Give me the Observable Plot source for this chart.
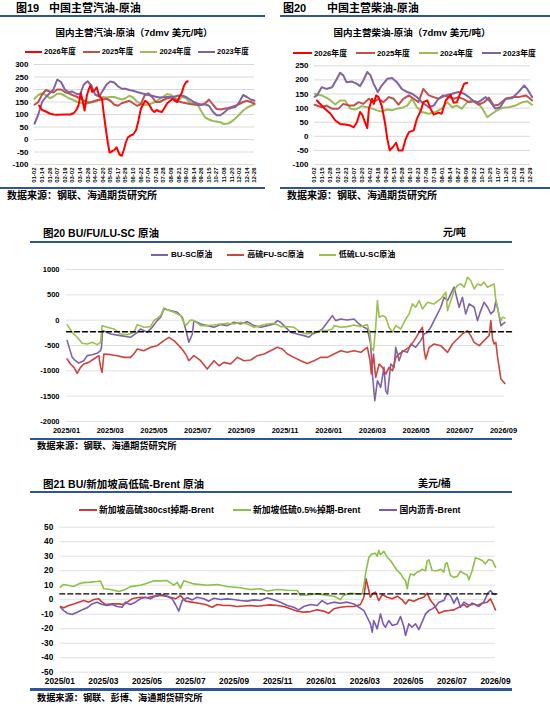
<!DOCTYPE html>
<html><head><meta charset="utf-8">
<script src="https://cdn.jsdelivr.net/npm/d3@7"></script>
<script src="https://cdn.jsdelivr.net/npm/@observablehq/plot@0.6"></script>
<style>
body{margin:0;background:#fff;}
#page{position:relative;width:550px;height:706px;overflow:hidden;background:#fff;font-family:"Liberation Sans",Arial,"Noto Sans CJK SC",sans-serif;color:#000;}
.t{position:absolute;white-space:nowrap;font-weight:700;line-height:1;}
.rule{position:absolute;background:#2F5597;}
.legend{position:absolute;display:flex;align-items:center;white-space:nowrap;font-weight:700;line-height:1;}
.legend .it{display:inline-flex;align-items:center;}
.legend .sw{display:inline-block;height:2px;}
.chart{position:absolute;}
</style></head>
<body><div id="page"></div>
<script>
// ---------------- DATA ----------------
const yearNames = ["2026年度","2025年度","2024年度","2023年度"];
const yearColors = ["#FF0000","#C0504D","#9BBB59","#8064A2"];

const gasTicks = ["01-02","01-14","01-26","02-07","02-19","03-02","03-14","03-26","04-07","04-20","05-05","05-17","05-29","06-10","06-22","07-04","07-16","07-28","08-09","08-21","09-02","09-14","09-26","10-15","10-27","11-08","11-20","12-02","12-14","12-26"];
const gasYTicks = [-100,-50,0,50,100,150,200,250,300];
// values every half tick step
const gas2023 = [63,100,150,170,185,200,240,230,200,190,192,183,180,220,233,215,180,172,195,220,232,228,213,203,203,198,195,190,186,182,178,175,171,168,169,170,170,172,176,175,170,160,150,143,140,140,135,112,97,97,108,122,127,130,150,178,170,160,155];
const gas2024 = [163,178,185,178,165,172,183,183,175,165,160,152,147,143,145,148,152,160,170,168,170,170,165,160,165,175,168,152,142,138,140,145,152,162,172,182,178,168,158,170,165,148,145,140,112,88,80,74,72,69,62,64,72,85,100,116,127,135,140];
const gas2025 = [139,150,180,198,192,188,200,200,190,185,178,172,165,155,148,150,155,158,160,163,155,140,135,145,150,155,145,135,140,175,185,170,150,150,158,165,168,162,152,148,145,142,140,138,138,145,160,140,122,120,123,126,130,135,142,150,155,150,143];
const gas2026 = [[0.6,136],[1,118],[1.5,112],[2,104],[2.5,100],[3,99],[4,100],[4.7,100],[5.2,106],[5.5,118],[5.8,136],[6.1,186],[6.3,160],[6.6,116],[6.9,176],[7.2,205],[7.4,216],[7.6,190],[7.9,196],[8.2,209],[8.5,176],[8.9,163],[9.1,110],[9.3,65],[9.5,20],[9.7,-20],[9.9,-52],[10.3,-46],[10.6,-40],[10.8,-31],[11.0,-45],[11.2,-60],[11.5,-65],[11.8,-40],[12.0,-15],[12.3,8],[12.6,15],[13.0,20],[13.4,38],[13.7,75],[14.0,120],[14.3,140],[14.6,155],[14.9,148],[15.2,135],[15.5,118],[15.8,110],[16.1,118],[16.4,113],[16.8,110],[17.1,125],[17.5,145],[17.9,155],[18.2,162],[18.5,155],[18.8,150],[19.1,170],[19.4,185],[19.7,215],[20.0,230],[20.2,233]];

const dieselTicks = ["01-02","01-15","01-28","02-10","02-23","03-07","03-20","04-02","04-16","04-29","05-15","05-28","06-10","06-23","07-06","07-19","08-01","08-14","08-27","09-09","09-22","10-12","10-25","11-07","11-20","12-03","12-16","12-29"];
const dieselYTicks = [-100,-50,0,50,100,150,200,250];
const diesel2023 = [[0,140],[0.3,145],[0.9,174],[1.5,168],[2.2,174],[2.8,204],[3.2,225],[3.6,216],[4.0,192],[4.7,194],[5.3,186],[5.7,178],[6.1,198],[6.6,228],[7.0,216],[7.4,186],[7.9,157],[8.4,180],[9.1,204],[9.7,207],[10.3,192],[10.9,168],[11.6,157],[12.2,151],[12.8,139],[13.4,121],[14.3,103],[14.9,109],[15.5,133],[16.4,145],[17.2,151],[18.0,157],[18.7,151],[19.3,139],[19.9,124],[20.5,121],[21.4,139],[22.0,121],[22.6,98],[23.2,103],[23.9,133],[24.7,135],[25.5,157],[26.2,180],[26.6,168],[27.2,139]];
const diesel2024 = [[0,151],[0.9,145],[1.75,133],[2.6,113],[3.2,127],[3.8,127],[4.5,98],[5.1,95],[5.9,107],[6.6,103],[7.2,98],[7.8,92],[8.4,88],[9.1,95],[9.7,92],[10.3,98],[10.9,101],[11.6,109],[12.2,133],[12.8,103],[13.4,86],[14.3,80],[15.1,86],[15.9,98],[16.6,121],[17.2,103],[17.8,109],[18.4,98],[19.1,121],[19.7,127],[20.3,121],[21.0,98],[21.6,68],[22.2,80],[22.8,92],[23.5,101],[24.3,103],[25.1,109],[26.0,121],[26.6,124],[27.2,112]];
const diesel2025 = [[0,112],[0.9,103],[1.5,109],[2.2,98],[3.0,98],[3.6,115],[4.3,109],[4.9,109],[5.5,121],[6.1,115],[6.8,133],[7.4,121],[8.0,133],[8.6,121],[9.3,139],[9.9,133],[10.5,112],[11.1,133],[11.8,145],[12.4,133],[13.0,121],[13.6,168],[14.3,145],[14.9,139],[15.5,133],[16.1,145],[16.8,139],[17.4,133],[18.0,139],[18.7,131],[19.3,121],[19.9,124],[20.5,112],[21.2,121],[21.8,137],[22.4,109],[23.0,112],[23.9,133],[24.7,139],[25.5,139],[26.4,145],[26.9,135],[27.2,127]];
const diesel2026 = [[0.3,127],[0.9,109],[1.3,98],[2.0,80],[2.6,56],[3.2,44],[3.8,42],[4.5,38],[4.9,32],[5.3,50],[5.7,86],[6.0,74],[6.3,50],[6.6,29],[6.8,98],[7.2,133],[7.4,115],[7.7,145],[8.0,139],[8.4,109],[8.8,50],[9.1,-9],[9.4,-50],[9.8,-38],[10.2,-23],[10.5,-50],[11.0,-50],[11.4,-9],[11.8,15],[12.4,21],[12.8,62],[13.3,92],[13.6,121],[14.1,127],[14.5,98],[14.9,77],[15.5,84],[15.9,80],[16.4,127],[17.0,147],[17.4,119],[17.8,121],[18.2,151],[18.7,186],[19.1,190]];

// month offsets from 2025/01
const monthTickLabels = ["2025/01","2025/03","2025/05","2025/07","2025/09","2025/11","2026/01","2026/03","2026/05","2026/07","2026/09"];
const monthTicks = [0,2,4,6,8,10,12,14,16,18,20];

const midNames = ["BU-SC原油","高硫FU-SC原油","低硫LU-SC原油"];
const midColors = ["#8064A2","#CC4540","#9BC04E"];
const midYTicks = [-2000,-1500,-1000,-500,0,500,1000];
const midDashLevel = -230;
const midBU = [[0.03,-404],[0.26,-734],[0.41,-800],[0.56,-846],[0.79,-800],[0.95,-700],[1.18,-681],[1.40,-655],[1.56,-602],[1.60,-536],[1.65,-206],[2.02,-272],[2.47,-305],[2.93,-338],[3.24,-240],[3.39,-174],[3.69,-240],[3.92,-141],[4.15,-9],[4.31,57],[4.46,222],[4.76,189],[5.07,156],[5.30,57],[5.45,-174],[5.60,-437],[5.76,-272],[5.83,-9],[6.14,-75],[6.44,-108],[6.75,-141],[7.05,-88],[7.36,-108],[7.66,-42],[7.97,-75],[8.27,-29],[8.58,-108],[8.89,-141],[9.19,-108],[9.50,-75],[9.65,-9],[9.80,-42],[9.95,-108],[10.26,-240],[10.56,-272],[10.87,-305],[11.10,-338],[11.25,-272],[11.48,-240],[11.71,-174],[11.94,-42],[12.17,90],[12.32,-9],[12.55,24],[12.85,4],[13.16,24],[13.39,-75],[13.62,-141],[13.77,-174],[13.92,-470],[14.00,-1063],[14.11,-1590],[14.23,-1195],[14.38,-1327],[14.53,-932],[14.61,-1393],[14.69,-1460],[14.84,-866],[14.99,-932],[15.07,-536],[15.22,-800],[15.37,-602],[15.60,-635],[15.76,-470],[15.98,-536],[16.21,-404],[16.37,-272],[16.52,-240],[16.67,-141],[16.82,-9],[16.98,123],[17.13,255],[17.28,453],[17.44,387],[17.59,519],[17.74,651],[17.97,255],[18.12,453],[18.27,123],[18.43,321],[18.66,255],[18.81,-9],[18.96,189],[19.11,354],[19.27,255],[19.42,123],[19.57,189],[19.65,387],[19.80,90],[19.88,-108],[20.06,-42]];
const midFU = [[0.03,-767],[0.18,-866],[0.34,-932],[0.49,-1050],[0.64,-932],[0.79,-866],[1.02,-833],[1.25,-767],[1.48,-701],[1.56,-932],[1.63,-1030],[1.71,-668],[2.02,-681],[2.32,-701],[2.63,-734],[2.93,-734],[3.08,-668],[3.24,-569],[3.54,-602],[3.85,-536],[4.15,-503],[4.46,-404],[4.69,-338],[4.92,-404],[5.22,-536],[5.45,-668],[5.60,-800],[5.83,-701],[6.14,-800],[6.44,-965],[6.75,-800],[6.98,-899],[7.21,-833],[7.51,-866],[7.82,-734],[8.12,-800],[8.43,-787],[8.73,-701],[9.04,-668],[9.34,-602],[9.65,-536],[9.88,-569],[10.11,-668],[10.41,-734],[10.72,-800],[11.02,-853],[11.33,-800],[11.63,-734],[11.94,-734],[12.24,-668],[12.55,-602],[12.85,-635],[13.16,-602],[13.47,-635],[13.77,-536],[13.89,-800],[13.95,-1063],[14.05,-668],[14.15,-1129],[14.31,-866],[14.46,-932],[14.61,-1063],[14.76,-932],[14.92,-998],[15.07,-734],[15.22,-668],[15.45,-602],[15.68,-536],[15.91,-404],[16.14,-240],[16.29,-141],[16.37,-602],[16.44,-767],[16.60,-536],[16.82,-470],[17.13,-503],[17.44,-635],[17.66,-470],[17.89,-371],[18.12,-272],[18.35,-206],[18.50,-305],[18.66,-437],[18.89,-503],[19.11,-404],[19.34,-305],[19.42,-9],[19.50,-371],[19.57,-470],[19.65,-437],[19.73,-734],[19.80,-932],[19.88,-1162],[19.95,-1195],[20.06,-1248]];
const midLU = [[0.03,-88],[0.26,-240],[0.49,-338],[0.72,-457],[0.95,-470],[1.18,-437],[1.40,-483],[1.56,-437],[1.63,-108],[1.86,-141],[2.17,-174],[2.47,-272],[2.78,-286],[3.08,-240],[3.24,-88],[3.54,-141],[3.85,-127],[4.00,-9],[4.31,90],[4.46,242],[4.69,189],[4.92,156],[5.22,90],[5.45,-108],[5.68,4],[5.83,-9],[6.14,-108],[6.44,-108],[6.75,-95],[7.05,-75],[7.36,-62],[7.66,-75],[7.97,-42],[8.27,-75],[8.58,-141],[8.89,-108],[9.19,-75],[9.50,-62],[9.80,-127],[10.11,-127],[10.41,-141],[10.72,-240],[11.02,-272],[11.33,-240],[11.63,-206],[11.94,-206],[12.17,-174],[12.24,-108],[12.55,-141],[12.85,-127],[13.16,-95],[13.47,-127],[13.77,-88],[13.89,-272],[13.95,-536],[14.05,-602],[14.15,-141],[14.23,387],[14.31,57],[14.46,90],[14.61,57],[14.76,-141],[14.92,-240],[15.07,-108],[15.30,-174],[15.53,24],[15.68,123],[15.83,321],[15.98,255],[16.14,387],[16.29,222],[16.52,354],[16.82,321],[17.13,420],[17.36,552],[17.44,189],[17.59,387],[17.74,585],[17.89,684],[18.05,717],[18.20,651],[18.35,848],[18.50,783],[18.66,618],[18.81,717],[18.96,684],[19.11,750],[19.27,651],[19.42,684],[19.57,717],[19.65,387],[19.73,255],[19.80,90],[19.88,-9],[19.95,57],[20.06,44]];

const botNames = ["新加坡高硫380cst掉期-Brent","新加坡低硫0.5%掉期-Brent","国内沥青-Brent"];
const botColors = ["#D03A35","#8DC04A","#7B5BB0"];
const botYTicks = [-50,-40,-30,-20,-10,0,10,20,30,40,50];
const botDashLevel = 4;
const botHSFO = [[0.03,-4.7],[0.18,-5.6],[0.41,-4],[0.64,-2.9],[0.87,-1.7],[1.10,-0.6],[1.33,-1.7],[1.56,0.1],[1.79,0.6],[1.94,-1.7],[2.10,-3.3],[2.40,-2.9],[2.71,-2.9],[2.94,-3.3],[3.09,-1.7],[3.32,0.6],[3.55,1.3],[3.78,1.7],[4.01,1.3],[4.24,2.2],[4.47,2.9],[4.77,3.3],[5.08,1.7],[5.31,0.6],[5.54,2.9],[5.77,-1],[6.07,-1.7],[6.38,-2.4],[6.69,-3.3],[7.00,-5.2],[7.22,-3.3],[7.53,-4],[7.83,-4],[8.14,-4.7],[8.45,-4.3],[8.75,-4],[9.06,-4.5],[9.37,-4],[9.67,-3.6],[9.98,-4],[10.28,-4.7],[10.59,-6.3],[10.90,-7.9],[11.20,-8.6],[11.51,-8.2],[11.81,-7],[12.12,-7.9],[12.35,-9.3],[12.58,-6.3],[12.88,-5.2],[13.19,-4.7],[13.50,-4.7],[13.80,-3.3],[13.96,1.7],[14.06,14.4],[14.15,8.6],[14.26,1.7],[14.38,4.5],[14.49,5.2],[14.64,-0.6],[14.80,3.6],[15.03,1.7],[15.26,0.6],[15.49,2.4],[15.72,-0.1],[15.87,-2.9],[16.02,-0.1],[16.25,-1],[16.48,0.6],[16.71,1.7],[16.86,4.5],[17.02,-0.6],[17.17,-3.3],[17.40,-9.3],[17.63,-7.9],[17.86,-7.5],[18.09,-7],[18.32,-5.2],[18.55,-3.3],[18.70,-5.2],[18.93,-2.4],[19.16,-4],[19.39,-2.4],[19.62,-1.7],[19.77,0.6],[19.89,-3.3],[20.00,-7]];
const botLSFO = [[0.03,8.6],[0.18,10.5],[0.41,9.8],[0.64,9.1],[0.87,10.9],[1.10,11.8],[1.41,12.1],[1.71,12.5],[1.87,12.8],[2.02,7.5],[2.33,7],[2.71,5.6],[3.01,7],[3.24,9],[3.70,10],[4.01,11.4],[4.32,13],[4.62,13],[4.93,13.2],[5.23,10],[5.39,12],[5.54,7.9],[5.69,13],[6.15,10.9],[6.76,10],[7.22,10.5],[7.68,9.1],[8.29,8.2],[8.75,7],[9.21,7.5],[9.52,6],[9.98,7],[10.44,6.5],[10.90,6.3],[11.05,2.9],[11.35,3.2],[11.81,4],[12.27,3],[12.58,2.4],[12.88,0.1],[13.04,3],[13.34,4.5],[13.65,4],[13.88,4],[13.96,10],[14.06,20.1],[14.19,29.3],[14.34,31.6],[14.49,32],[14.57,30],[14.64,34],[14.72,31],[14.87,33.4],[15.03,29.3],[15.18,27],[15.33,23.6],[15.49,20],[15.64,18],[15.79,14.4],[15.87,13],[15.95,7.5],[16.02,14],[16.10,17.8],[16.25,17],[16.40,19],[16.56,20],[16.63,21],[16.79,20],[16.86,26.6],[16.94,27.5],[17.09,20.1],[17.32,20],[17.48,21],[17.63,19],[17.70,24.7],[17.78,25.5],[17.93,16.7],[18.09,15.5],[18.24,16],[18.39,19.7],[18.55,18],[18.70,17],[18.78,13.7],[18.93,20.1],[19.01,25],[19.08,28.9],[19.24,28],[19.39,27],[19.54,24.7],[19.69,27.7],[19.85,27],[20.00,22.4]];
const botBU = [[0.03,-5.2],[0.18,-7.5],[0.34,-9.3],[0.57,-10.2],[0.80,-8.6],[1.03,-7],[1.25,-5.6],[1.48,-2.9],[1.71,-1.7],[1.94,-3.3],[2.17,-4],[2.40,-3.3],[2.63,-4.7],[2.86,-5.2],[3.01,-1.7],[3.24,-3.3],[3.47,-1.7],[3.70,0.6],[3.93,1.7],[4.16,0.6],[4.39,2.4],[4.62,2.9],[4.93,2.2],[5.16,0.6],[5.31,-3.3],[5.46,-7.9],[5.62,-0.6],[5.85,1.3],[6.07,-0.1],[6.30,1.7],[6.61,0.6],[6.84,-1],[7.07,1],[7.38,0.1],[7.68,0.6],[7.99,0.1],[8.29,-0.6],[8.60,-1],[8.91,-0.1],[9.21,-0.6],[9.52,1.3],[9.82,-0.1],[10.13,-1.7],[10.44,-4],[10.74,-5.2],[10.97,-7],[11.20,-4.7],[11.51,-3.3],[11.81,-4],[12.04,-0.6],[12.27,-2.9],[12.58,-1.7],[12.88,-2.4],[13.19,-1.7],[13.50,-2.9],[13.73,-5.2],[13.96,-7.5],[14.11,-12.1],[14.26,-16.7],[14.34,-22.4],[14.41,-14.4],[14.57,-20.1],[14.72,-9.8],[14.84,-16.7],[14.95,-19],[15.10,-14.4],[15.26,-17.8],[15.49,-16.7],[15.64,-11.6],[15.79,-18.5],[15.87,-24.7],[16.02,-16.7],[16.17,-19],[16.33,-16.7],[16.48,-20.6],[16.63,-15.5],[16.79,-9.8],[16.94,-7.5],[17.09,-6.3],[17.25,-4.7],[17.40,-1.7],[17.63,-0.6],[17.78,4],[17.93,2.9],[18.09,-2.4],[18.24,1.7],[18.39,-5.2],[18.55,-1.7],[18.78,-4],[19.01,-2.9],[19.24,-4.7],[19.46,-1.7],[19.65,4.5],[19.77,6.3],[19.89,4],[20.00,3.6]];

// ---------------- LAYOUT HELPERS ----------------
const page = document.getElementById("page");
function text(str, left, top, fs, extra = {}) {
  const d = document.createElement("div");
  d.className = "t"; d.textContent = str;
  d.style.left = left + "px"; d.style.top = top + "px"; d.style.fontSize = fs + "px";
  Object.assign(d.style, extra);
  page.append(d); return d;
}
function rule(left, top, width, h) {
  const d = document.createElement("div");
  d.className = "rule";
  Object.assign(d.style, {left: left + "px", top: top + "px", width: width + "px", height: h + "px"});
  page.append(d);
}
function legend(names, colors, {left, center, fs, line, gap, tgap}) {
  const d = document.createElement("div");
  d.className = "legend";
  Object.assign(d.style, {left: left + "px", top: (center - fs / 2) + "px", fontSize: fs + "px", gap: gap + "px", height: fs + "px"});
  names.forEach((n, i) => {
    const it = document.createElement("span"); it.className = "it";
    const sw = document.createElement("span"); sw.className = "sw";
    sw.style.width = line + "px"; sw.style.background = colors[i]; sw.style.marginRight = tgap + "px";
    it.append(sw, document.createTextNode(n));
    d.append(it);
  });
  page.append(d);
}
function place(svg, left, top) {
  const w = document.createElement("div");
  w.className = "chart"; w.style.left = left + "px"; w.style.top = top + "px";
  w.append(svg); page.append(w);
}
const baseStyle = {fontFamily: "'Liberation Sans', Arial, sans-serif", fontWeight: "bold", color: "#000", background: "transparent", overflow: "visible"};
const halfSteps = arr => arr.map((v, i) => [i * 0.5, v]);
const plain = d => String(d);

// ---------------- TOP LEFT ----------------
text("图19", 16, 3, 11); text("中国主营汽油-原油", 49, 3, 11);
rule(0, 15, 265, 2);
text("国内主营汽油-原油（7dmv 美元/吨）", 134, 27.5, 9.5, {transform: "translateX(-50%)"});
legend(yearNames, yearColors, {left: 25, center: 52, fs: 7.5, line: 17, gap: 7, tgap: 2});
{
  const svg = Plot.plot({
    width: 265, height: 128, marginTop: 6, marginBottom: 22, marginLeft: 34, marginRight: 11,
    style: baseStyle,
    x: {domain: [0, gasTicks.length - 1]},
    y: {domain: [-100, 300]},
    marks: [
      Plot.gridY(gasYTicks, {stroke: "#d9d9d9", strokeOpacity: 1}),
      Plot.axisY(gasYTicks, {tickSize: 0, tickPadding: 6, tickFormat: plain, fontSize: 8, fontWeight: "bold"}),
      Plot.axisX(d3.range(gasTicks.length), {tickSize: 0, tickPadding: 3, tickRotate: -90, tickFormat: i => gasTicks[i], fontSize: 6, fontWeight: "bold"}),
      Plot.line(halfSteps(gas2024), {stroke: yearColors[2], strokeWidth: 2}),
      Plot.line(halfSteps(gas2025), {stroke: yearColors[1], strokeWidth: 2}),
      Plot.line(halfSteps(gas2023), {stroke: yearColors[3], strokeWidth: 2}),
      Plot.line(gas2026, {stroke: yearColors[0], strokeWidth: 2})
    ]
  });
  place(svg, 0, 58);
}
rule(0, 187, 265, 2);
text("数据来源：钢联、海通期货研究所", 7, 190.5, 10);

// ---------------- TOP RIGHT ----------------
text("图20", 283, 3, 11); text("中国主营柴油-原油", 327, 3, 11);
rule(280, 15, 270, 2);
text("国内主营柴油-原油（7dmv 美元/吨）", 412, 27.5, 9.5, {transform: "translateX(-50%)"});
legend(yearNames, yearColors, {left: 293, center: 53.5, fs: 7.8, line: 19, gap: 9, tgap: 2});
{
  const svg = Plot.plot({
    width: 275, height: 128, marginTop: 7.3, marginBottom: 22, marginLeft: 39, marginRight: 20,
    style: baseStyle,
    x: {domain: [0, dieselTicks.length - 1]},
    y: {domain: [-100, 250]},
    marks: [
      Plot.gridY(dieselYTicks, {stroke: "#d9d9d9", strokeOpacity: 1}),
      Plot.axisY(dieselYTicks, {tickSize: 0, tickPadding: 6, tickFormat: plain, fontSize: 8, fontWeight: "bold"}),
      Plot.axisX(d3.range(dieselTicks.length), {tickSize: 0, tickPadding: 3, tickRotate: -90, tickFormat: i => dieselTicks[i], fontSize: 6, fontWeight: "bold"}),
      Plot.line(diesel2024, {stroke: yearColors[2], strokeWidth: 2}),
      Plot.line(diesel2025, {stroke: yearColors[1], strokeWidth: 2}),
      Plot.line(diesel2023, {stroke: yearColors[3], strokeWidth: 2}),
      Plot.line(diesel2026, {stroke: yearColors[0], strokeWidth: 2})
    ]
  });
  place(svg, 275, 58);
}
rule(280, 187, 270, 2);
text("数据来源：钢联、海通期货研究所", 287, 190.5, 10);

// ---------------- MIDDLE ----------------
text("图20  BU/FU/LU-SC 原油", 43, 227.5, 10.5);
text("元/吨", 443, 228, 10);
rule(30, 240.5, 482, 2.5);
legend(midNames, midColors, {left: 151, center: 254.5, fs: 8, line: 17, gap: 15, tgap: 3});
{
  const svg = Plot.plot({
    width: 524, height: 175, marginTop: 7, marginBottom: 16, marginLeft: 66, marginRight: 21,
    style: baseStyle,
    x: {domain: [0, 20]},
    y: {domain: [-2000, 1000]},
    marks: [
      Plot.gridY(midYTicks, {x1: 0, x2: 20.06, stroke: "#e0e0e0", strokeOpacity: 1}),
      Plot.axisY(midYTicks, {tickSize: 0, tickPadding: 7, tickFormat: plain, fontSize: 7.5, fontWeight: "bold"}),
      Plot.axisX(monthTicks, {tickSize: 0, tickPadding: 6.5, tickFormat: (d, i) => monthTickLabels[i], fontSize: 7.5, fontWeight: "bold"}),
      Plot.line(midBU, {stroke: midColors[0], strokeWidth: 1.6}),
      Plot.line(midFU, {stroke: midColors[1], strokeWidth: 1.6}),
      Plot.line(midLU, {stroke: midColors[2], strokeWidth: 1.6}),
      Plot.line([[0, midDashLevel], [20.4, midDashLevel]], {stroke: "#000", strokeWidth: 1.4, strokeDasharray: "5,3"})
    ]
  });
  place(svg, 0, 262);
}
rule(30, 437.7, 482, 2);
text("数据来源：钢联、海通期货研究所", 37, 441.5, 9.3);

// ---------------- BOTTOM ----------------
text("图21  BU/新加坡高低硫-Brent 原油", 43, 478.5, 10.5);
text("美元/桶", 418, 479, 10);
rule(30, 490.7, 482, 2.5);
legend(botNames, botColors, {left: 79, center: 510, fs: 8.8, line: 18, gap: 19, tgap: 2});
{
  const svg = Plot.plot({
    width: 512, height: 168, marginTop: 6.7, marginBottom: 16.3, marginLeft: 59.3, marginRight: 17,
    style: baseStyle,
    x: {domain: [0, 20]},
    y: {domain: [-50, 50]},
    marks: [
      Plot.gridY(botYTicks, {stroke: "#e0e0e0", strokeOpacity: 1}),
      Plot.axisY(botYTicks, {tickSize: 0, tickPadding: 6.5, tickFormat: plain, fontSize: 8.3, fontWeight: "bold"}),
      Plot.axisX(monthTicks, {tickSize: 0, tickPadding: 6, tickFormat: (d, i) => monthTickLabels[i], fontSize: 8.3, fontWeight: "bold"}),
      Plot.line(botHSFO, {stroke: botColors[0], strokeWidth: 1.6}),
      Plot.line(botLSFO, {stroke: botColors[1], strokeWidth: 1.6}),
      Plot.line(botBU, {stroke: botColors[2], strokeWidth: 1.6}),
      Plot.line([[0, botDashLevel], [20.15, botDashLevel]], {stroke: "#000", strokeWidth: 1.4, strokeDasharray: "5,3"})
    ]
  });
  place(svg, 0, 520);
}
rule(30, 688.3, 482, 2.3);
text("数据来源：钢联、彭博、海通期货研究所", 37, 694, 9.2);
</script>
</body></html>
